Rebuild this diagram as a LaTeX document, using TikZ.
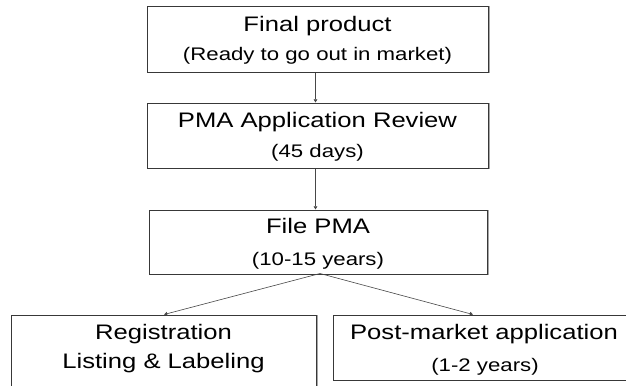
\documentclass[tikz,border=0pt]{standalone}
\usepackage{fontspec}
\setmainfont{Liberation Sans}[FakeStretch=1.22]
\usetikzlibrary{arrows.meta}
\newcommand{\headfont}{\fontsize{21bp}{25bp}\selectfont}
\newcommand{\subfont}{\fontsize{18.2bp}{22bp}\selectfont}
\tikzset{
  box/.style={draw=black!78, line width=1.1bp, fill=white, rectangle,
    inner sep=0pt, anchor=north west},
  headtext/.style={font=\headfont, inner sep=0pt, anchor=base, text=black},
  subtext/.style={font=\subfont, inner sep=0pt, anchor=base, text=black},
  link/.style={draw=black!72, line width=0.6bp,
    -{Triangle[width=3.6bp,length=3.2bp]}},
}
\begin{document}
\begin{tikzpicture}[x=1bp, y=-1bp]
\useasboundingbox (0,0) rectangle (626,385);
\clip (0,0) rectangle (626,385);
\fill[white] (0,0) rectangle (626,385);

% soft drop shadows under the boxes
\begin{scope}[black!35, line width=1bp]
  \draw (148,72) -- (489,72) -- (489,6);
  \draw (148,168) -- (489,168) -- (489,103);
  \draw (150,274) -- (488,274) -- (488,210);
  \draw (317,315) -- (317,390);
  \draw (334,380) -- (640,380);
\end{scope}

% boxes
\node[box, minimum width=341bp, minimum height=66bp] (final) at (147,5.5) {};
\node[box, minimum width=341bp, minimum height=65bp] (review) at (147,102.5) {};
\node[box, minimum width=338bp, minimum height=64bp] (file) at (149,209.5) {};
\node[box, minimum width=305bp, minimum height=90bp] (reg) at (11,314.5) {};
\node[box, minimum width=304bp, minimum height=65bp] (post) at (332.5,314.5) {};

% texts
\node[headtext] (t1a) at (317.5,31) {Final product};
\node[subtext]  (t1b) at (317.5,60) {(Ready to go out in market)};
\node[headtext] (t2a) at (317.5,127) {PMA Application Review};
\node[subtext]  (t2b) at (317.5,157) {(45 days)};
\node[headtext] (t3a) at (318,233) {File PMA};
\node[subtext]  (t3b) at (318,265) {(10-15 years)};
\node[headtext] (t4a) at (163.5,339) {Registration};
\node[headtext] (t4b) at (163.5,368.5) {Listing \& Labeling};
\node[headtext] (t5a) at (484,339) {Post-market application};
\node[subtext]  (t5b) at (485,371) {(1-2 years)};

% connectors
\coordinate (split) at (320,273.5);
\draw[link] (final.south -| 315.5,0) -- (review.north -| 315.5,0);
\draw[link] (review.south -| 315.5,0) -- (file.north -| 315.5,0);
\draw[link] (split) -- (reg.north -| 164,0);
\draw[link] (split) -- (post.north -| 473,0);
\end{tikzpicture}
\end{document}
